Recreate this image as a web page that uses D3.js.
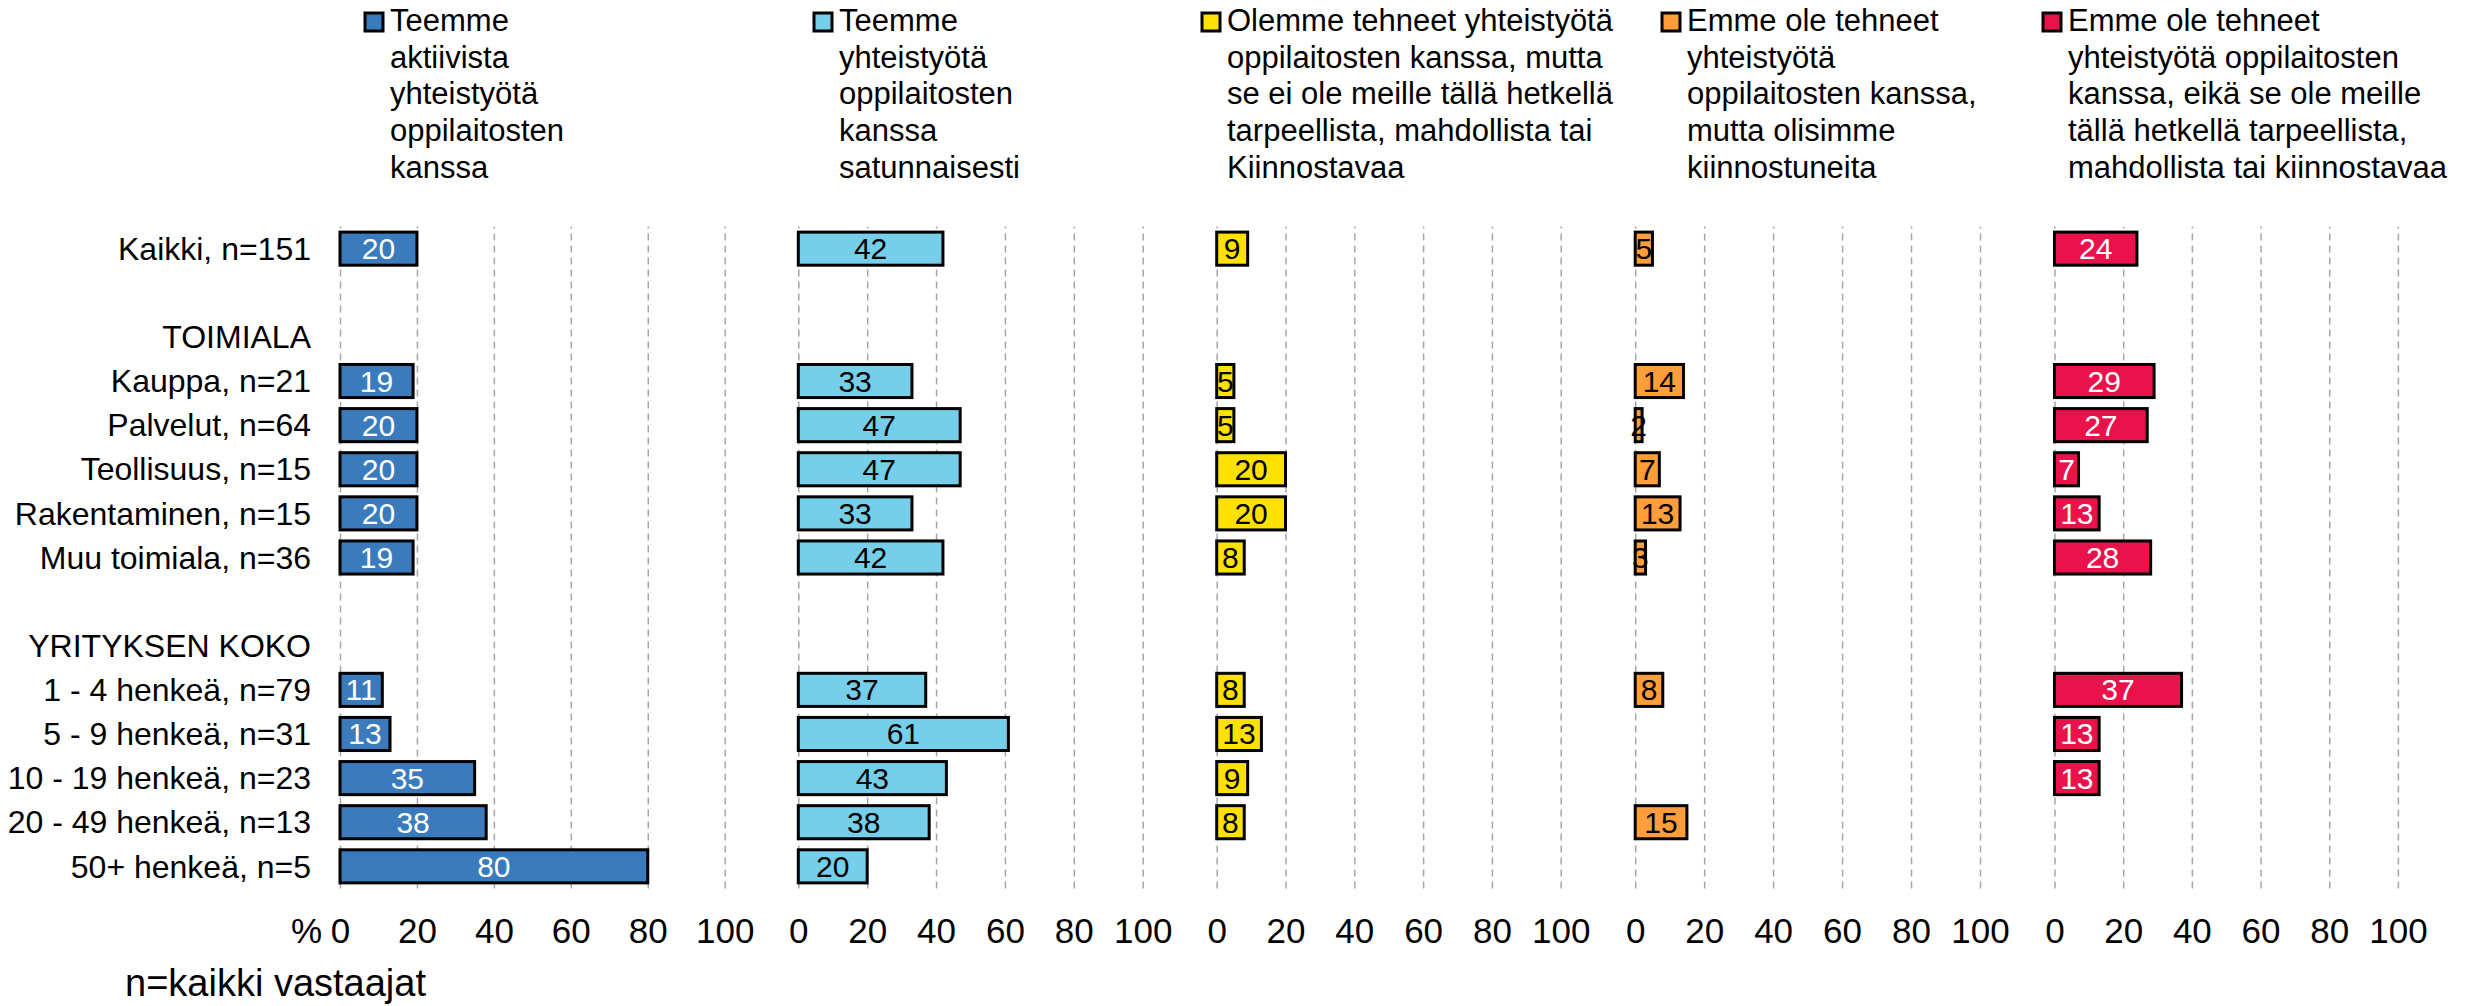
<!doctype html>
<html>
<head>
<meta charset="utf-8">
<title>Yhteistyö oppilaitosten kanssa</title>
<script src="https://d3js.org/d3.v7.min.js"></script>
<style>
  body { margin: 0; background: #fff; }
  svg text { font-family: "Liberation Sans", Arial, sans-serif; fill: #000; }
</style>
</head>
<body>
<div id="chart"></div>
<script>
// rows top to bottom, "" = empty spacer row, headers have no values
const rows = ["Kaikki, n=151", "", "TOIMIALA", "Kauppa, n=21", "Palvelut, n=64",
  "Teollisuus, n=15", "Rakentaminen, n=15", "Muu toimiala, n=36", "", "YRITYKSEN KOKO",
  "1 - 4 henkeä, n=79", "5 - 9 henkeä, n=31", "10 - 19 henkeä, n=23",
  "20 - 49 henkeä, n=13", "50+ henkeä, n=5"];

const aktiivista     = [20, null, null, 19, 20, 20, 20, 19, null, null, 11, 13, 35, 38, 80];
const satunnaisesti  = [42, null, null, 33, 47, 47, 33, 42, null, null, 37, 61, 43, 38, 20];
const eiTarpeellista = [9, null, null, 5, 5, 20, 20, 8, null, null, 8, 13, 9, 8, null];
const kiinnostuneita = [5, null, null, 14, 2, 7, 13, 3, null, null, 8, null, null, 15, null];
const eiKiinnostavaa = [24, null, null, 29, 27, 7, 13, 28, null, null, 37, 13, 13, null, null];

const legendLines = [
  ["Teemme", "aktiivista", "yhteistyötä", "oppilaitosten", "kanssa"],
  ["Teemme", "yhteistyötä", "oppilaitosten", "kanssa", "satunnaisesti"],
  ["Olemme tehneet yhteistyötä", "oppilaitosten kanssa, mutta", "se ei ole meille tällä hetkellä", "tarpeellista, mahdollista tai", "Kiinnostavaa"],
  ["Emme ole tehneet", "yhteistyötä", "oppilaitosten kanssa,", "mutta olisimme", "kiinnostuneita"],
  ["Emme ole tehneet", "yhteistyötä oppilaitosten", "kanssa, eikä se ole meille", "tällä hetkellä tarpeellista,", "mahdollista tai kiinnostavaa"]
];
const tickValues = [0, 20, 40, 60, 80, 100];

const series = [aktiivista, satunnaisesti, eiTarpeellista, kiinnostuneita, eiKiinnostavaa];
const colors = ["#3A7BBE", "#76CFEA", "#FFE100", "#FF9E3B", "#EA124B"];
const labelColors = ["#fff", "#000", "#000", "#000", "#fff"];

// panel layout
const panelX = [340, 798.3, 1216.7, 1635.2, 2054.5];
const panelW = [384.7, 344.4, 344, 344.8, 343.4];
const legendX = [365, 814, 1202, 1662, 2043];

const W = 2471, H = 1006;
const plotTop = 226.6, plotBottom = 888.4;

const svg = d3.select("#chart").append("svg")
  .attr("width", W).attr("height", H);

const y = d3.scaleBand()
  .domain(d3.range(rows.length))
  .range([plotTop, plotBottom])
  .paddingInner(0.25)
  .paddingOuter(0.125);

// category labels
svg.append("g").selectAll("text")
  .data(rows)
  .join("text")
  .attr("x", 311)
  .attr("y", (d, i) => y(i) + y.bandwidth() / 2)
  .attr("dy", "0.35em")
  .attr("text-anchor", "end")
  .style("font-size", "32px")
  .text(d => d);

series.forEach((vals, s) => {
  const x = d3.scaleLinear().domain([0, 100]).range([panelX[s], panelX[s] + panelW[s]]);

  // gridlines + tick labels
  const ax = svg.append("g")
    .attr("transform", "translate(0," + plotBottom + ")")
    .call(d3.axisBottom(x).tickValues(tickValues).tickSize(-(plotBottom - plotTop)).tickPadding(30));
  ax.select(".domain").remove();
  ax.selectAll(".tick line")
    .attr("stroke", "#A6A6A6")
    .attr("stroke-width", 1.5)
    .attr("stroke-dasharray", "7,5");
  ax.selectAll(".tick text")
    .attr("fill", "#000")
    .style("font-size", "35px")
    .style("font-family", "'Liberation Sans', Arial, sans-serif");

  const data = vals.map((v, i) => ({ v, i })).filter(d => d.v != null);

  const g = svg.append("g");
  g.selectAll("rect")
    .data(data)
    .join("rect")
    .attr("x", x(0))
    .attr("y", d => y(d.i))
    .attr("width", d => x(d.v) - x(0))
    .attr("height", y.bandwidth())
    .attr("fill", colors[s])
    .attr("stroke", "#000")
    .attr("stroke-width", 3);

  g.selectAll("text")
    .data(data)
    .join("text")
    .attr("x", d => (x(0) + x(d.v)) / 2)
    .attr("y", d => y(d.i) + y.bandwidth() / 2)
    .attr("dy", "0.35em")
    .attr("text-anchor", "middle")
    .style("font-size", "30px")
    .style("fill", labelColors[s])
    .text(d => d.v);

  // legend
  const lg = svg.append("g").attr("transform", "translate(" + legendX[s] + ",0)");
  lg.append("rect")
    .attr("x", 0).attr("y", 13)
    .attr("width", 18).attr("height", 18)
    .attr("fill", colors[s])
    .attr("stroke", "#000")
    .attr("stroke-width", 3);
  lg.selectAll("text")
    .data(legendLines[s])
    .join("text")
    .attr("x", 25)
    .attr("y", (d, k) => 31 + k * 36.7)
    .style("font-size", "31px")
    .text(d => d);
});

svg.append("text")
  .attr("x", 322).attr("y", plotBottom + 30 + 25)
  .attr("text-anchor", "end")
  .style("font-size", "35px")
  .text("%");

svg.append("text")
  .attr("x", 125).attr("y", 996)
  .style("font-size", "38px")
  .text("n=kaikki vastaajat");
</script>
</body>
</html>
